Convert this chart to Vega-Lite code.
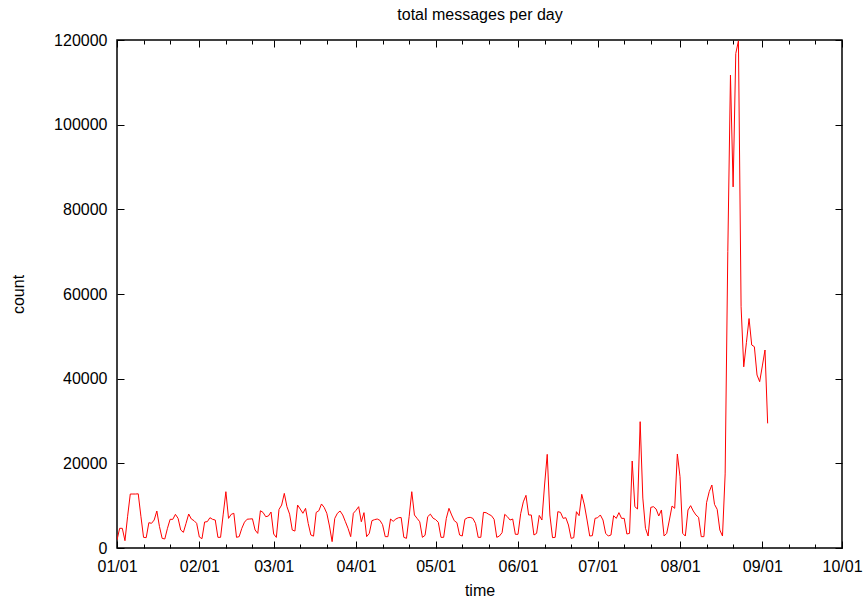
{
  "$schema": "https://vega.github.io/schema/vega-lite/v6.json",
  "width": 725,
  "height": 508,
  "autosize": {"type": "none"},
  "padding": {"left": 117, "top": 40, "right": 21, "bottom": 50},
  "background": "white",
  "data": {"values": [
    {"date": "2014-01-01", "count": 1890}, {"date": "2014-01-02", "count": 4650}, {"date": "2014-01-03", "count": 4650}, {"date": "2014-01-04", "count": 1730}, {"date": "2014-01-05", "count": 7500}, {"date": "2014-01-06", "count": 12750}, {"date": "2014-01-07", "count": 12750}, {"date": "2014-01-08", "count": 12750}, {"date": "2014-01-09", "count": 12800}, {"date": "2014-01-10", "count": 7500}, {"date": "2014-01-11", "count": 2520}, {"date": "2014-01-12", "count": 2440}, {"date": "2014-01-13", "count": 5980}, {"date": "2014-01-14", "count": 5830}, {"date": "2014-01-15", "count": 6610}, {"date": "2014-01-16", "count": 8740}, {"date": "2014-01-17", "count": 5040}, {"date": "2014-01-18", "count": 2280}, {"date": "2014-01-19", "count": 2130}, {"date": "2014-01-20", "count": 4650}, {"date": "2014-01-21", "count": 6770}, {"date": "2014-01-22", "count": 6770}, {"date": "2014-01-23", "count": 7950}, {"date": "2014-01-24", "count": 7000}, {"date": "2014-01-25", "count": 4250}, {"date": "2014-01-26", "count": 3700}, {"date": "2014-01-27", "count": 5830}, {"date": "2014-01-28", "count": 8030}, {"date": "2014-01-29", "count": 6850}, {"date": "2014-01-30", "count": 6460}, {"date": "2014-01-31", "count": 5830},
    {"date": "2014-02-01", "count": 2600}, {"date": "2014-02-02", "count": 2200}, {"date": "2014-02-03", "count": 6140}, {"date": "2014-02-04", "count": 6220}, {"date": "2014-02-05", "count": 7160}, {"date": "2014-02-06", "count": 6770}, {"date": "2014-02-07", "count": 6610}, {"date": "2014-02-08", "count": 2520}, {"date": "2014-02-09", "count": 2520}, {"date": "2014-02-10", "count": 8000}, {"date": "2014-02-11", "count": 13300}, {"date": "2014-02-12", "count": 7000}, {"date": "2014-02-13", "count": 7950}, {"date": "2014-02-14", "count": 8200}, {"date": "2014-02-15", "count": 2520}, {"date": "2014-02-16", "count": 2680}, {"date": "2014-02-17", "count": 4650}, {"date": "2014-02-18", "count": 6100}, {"date": "2014-02-19", "count": 6800}, {"date": "2014-02-20", "count": 6850}, {"date": "2014-02-21", "count": 6900}, {"date": "2014-02-22", "count": 4250}, {"date": "2014-02-23", "count": 3450}, {"date": "2014-02-24", "count": 8800}, {"date": "2014-02-25", "count": 8400}, {"date": "2014-02-26", "count": 7400}, {"date": "2014-02-27", "count": 7550}, {"date": "2014-02-28", "count": 8500},
    {"date": "2014-03-01", "count": 3300}, {"date": "2014-03-02", "count": 2500}, {"date": "2014-03-03", "count": 9100}, {"date": "2014-03-04", "count": 10150}, {"date": "2014-03-05", "count": 12900}, {"date": "2014-03-06", "count": 9750}, {"date": "2014-03-07", "count": 8000}, {"date": "2014-03-08", "count": 4250}, {"date": "2014-03-09", "count": 4000}, {"date": "2014-03-10", "count": 10150}, {"date": "2014-03-11", "count": 9200}, {"date": "2014-03-12", "count": 8200}, {"date": "2014-03-13", "count": 9370}, {"date": "2014-03-14", "count": 5800}, {"date": "2014-03-15", "count": 3070}, {"date": "2014-03-16", "count": 2800}, {"date": "2014-03-17", "count": 8400}, {"date": "2014-03-18", "count": 8800}, {"date": "2014-03-19", "count": 10400}, {"date": "2014-03-20", "count": 9600}, {"date": "2014-03-21", "count": 8200}, {"date": "2014-03-22", "count": 5200}, {"date": "2014-03-23", "count": 1500}, {"date": "2014-03-24", "count": 7000}, {"date": "2014-03-25", "count": 8200}, {"date": "2014-03-26", "count": 8740}, {"date": "2014-03-27", "count": 7800}, {"date": "2014-03-28", "count": 6220}, {"date": "2014-03-29", "count": 4650}, {"date": "2014-03-30", "count": 2680}, {"date": "2014-03-31", "count": 8200},
    {"date": "2014-04-01", "count": 8900}, {"date": "2014-04-02", "count": 9760}, {"date": "2014-04-03", "count": 6200}, {"date": "2014-04-04", "count": 8350}, {"date": "2014-04-05", "count": 2680}, {"date": "2014-04-06", "count": 3460}, {"date": "2014-04-07", "count": 6460}, {"date": "2014-04-08", "count": 6700}, {"date": "2014-04-09", "count": 6850}, {"date": "2014-04-10", "count": 6530}, {"date": "2014-04-11", "count": 5500}, {"date": "2014-04-12", "count": 2680}, {"date": "2014-04-13", "count": 2680}, {"date": "2014-04-14", "count": 6850}, {"date": "2014-04-15", "count": 6300}, {"date": "2014-04-16", "count": 6850}, {"date": "2014-04-17", "count": 7150}, {"date": "2014-04-18", "count": 7200}, {"date": "2014-04-19", "count": 2520}, {"date": "2014-04-20", "count": 2280}, {"date": "2014-04-21", "count": 7400}, {"date": "2014-04-22", "count": 13300}, {"date": "2014-04-23", "count": 7800}, {"date": "2014-04-24", "count": 7000}, {"date": "2014-04-25", "count": 6200}, {"date": "2014-04-26", "count": 2520}, {"date": "2014-04-27", "count": 3000}, {"date": "2014-04-28", "count": 7400}, {"date": "2014-04-29", "count": 8000}, {"date": "2014-04-30", "count": 7050},
    {"date": "2014-05-01", "count": 6700}, {"date": "2014-05-02", "count": 6060}, {"date": "2014-05-03", "count": 2520}, {"date": "2014-05-04", "count": 2520}, {"date": "2014-05-05", "count": 7000}, {"date": "2014-05-06", "count": 9370}, {"date": "2014-05-07", "count": 7800}, {"date": "2014-05-08", "count": 6450}, {"date": "2014-05-09", "count": 5980}, {"date": "2014-05-10", "count": 3070}, {"date": "2014-05-11", "count": 2830}, {"date": "2014-05-12", "count": 6770}, {"date": "2014-05-13", "count": 7160}, {"date": "2014-05-14", "count": 7240}, {"date": "2014-05-15", "count": 7000}, {"date": "2014-05-16", "count": 5800}, {"date": "2014-05-17", "count": 2520}, {"date": "2014-05-18", "count": 2520}, {"date": "2014-05-19", "count": 8420}, {"date": "2014-05-20", "count": 8340}, {"date": "2014-05-21", "count": 7950}, {"date": "2014-05-22", "count": 7640}, {"date": "2014-05-23", "count": 6770}, {"date": "2014-05-24", "count": 2520}, {"date": "2014-05-25", "count": 2830}, {"date": "2014-05-26", "count": 3620}, {"date": "2014-05-27", "count": 7950}, {"date": "2014-05-28", "count": 7400}, {"date": "2014-05-29", "count": 6610}, {"date": "2014-05-30", "count": 6850}, {"date": "2014-05-31", "count": 3230},
    {"date": "2014-06-01", "count": 3230}, {"date": "2014-06-02", "count": 8100}, {"date": "2014-06-03", "count": 10900}, {"date": "2014-06-04", "count": 12440}, {"date": "2014-06-05", "count": 7800}, {"date": "2014-06-06", "count": 7800}, {"date": "2014-06-07", "count": 3070}, {"date": "2014-06-08", "count": 3460}, {"date": "2014-06-09", "count": 7700}, {"date": "2014-06-10", "count": 6610}, {"date": "2014-06-11", "count": 14880}, {"date": "2014-06-12", "count": 22120}, {"date": "2014-06-13", "count": 7800}, {"date": "2014-06-14", "count": 2440}, {"date": "2014-06-15", "count": 2520}, {"date": "2014-06-16", "count": 8580}, {"date": "2014-06-17", "count": 8420}, {"date": "2014-06-18", "count": 7000}, {"date": "2014-06-19", "count": 7160}, {"date": "2014-06-20", "count": 5430}, {"date": "2014-06-21", "count": 2280}, {"date": "2014-06-22", "count": 2440}, {"date": "2014-06-23", "count": 8580}, {"date": "2014-06-24", "count": 7640}, {"date": "2014-06-25", "count": 12680}, {"date": "2014-06-26", "count": 10160}, {"date": "2014-06-27", "count": 6610}, {"date": "2014-06-28", "count": 2830}, {"date": "2014-06-29", "count": 2910}, {"date": "2014-06-30", "count": 7000},
    {"date": "2014-07-01", "count": 7160}, {"date": "2014-07-02", "count": 7800}, {"date": "2014-07-03", "count": 6610}, {"date": "2014-07-04", "count": 3460}, {"date": "2014-07-05", "count": 2830}, {"date": "2014-07-06", "count": 3070}, {"date": "2014-07-07", "count": 7640}, {"date": "2014-07-08", "count": 7000}, {"date": "2014-07-09", "count": 8350}, {"date": "2014-07-10", "count": 7000}, {"date": "2014-07-11", "count": 7000}, {"date": "2014-07-12", "count": 3300}, {"date": "2014-07-13", "count": 3460}, {"date": "2014-07-14", "count": 20550}, {"date": "2014-07-15", "count": 9760}, {"date": "2014-07-16", "count": 9210}, {"date": "2014-07-17", "count": 29840}, {"date": "2014-07-18", "count": 11800}, {"date": "2014-07-19", "count": 4650}, {"date": "2014-07-20", "count": 2830}, {"date": "2014-07-21", "count": 9600}, {"date": "2014-07-22", "count": 9760}, {"date": "2014-07-23", "count": 9210}, {"date": "2014-07-24", "count": 7560}, {"date": "2014-07-25", "count": 8980}, {"date": "2014-07-26", "count": 2830}, {"date": "2014-07-27", "count": 3460}, {"date": "2014-07-28", "count": 6610}, {"date": "2014-07-29", "count": 9920}, {"date": "2014-07-30", "count": 9370}, {"date": "2014-07-31", "count": 22200},
    {"date": "2014-08-01", "count": 16850}, {"date": "2014-08-02", "count": 3460}, {"date": "2014-08-03", "count": 2830}, {"date": "2014-08-04", "count": 8980}, {"date": "2014-08-05", "count": 10000}, {"date": "2014-08-06", "count": 8740}, {"date": "2014-08-07", "count": 7800}, {"date": "2014-08-08", "count": 7240}, {"date": "2014-08-09", "count": 2680}, {"date": "2014-08-10", "count": 2680}, {"date": "2014-08-11", "count": 10700}, {"date": "2014-08-12", "count": 13300}, {"date": "2014-08-13", "count": 14880}, {"date": "2014-08-14", "count": 10300}, {"date": "2014-08-15", "count": 9130}, {"date": "2014-08-16", "count": 4250}, {"date": "2014-08-17", "count": 2830}, {"date": "2014-08-18", "count": 17500}, {"date": "2014-08-19", "count": 70000}, {"date": "2014-08-20", "count": 111700}, {"date": "2014-08-21", "count": 85300}, {"date": "2014-08-22", "count": 116800}, {"date": "2014-08-23", "count": 119800}, {"date": "2014-08-24", "count": 57000}, {"date": "2014-08-25", "count": 42800}, {"date": "2014-08-26", "count": 48500}, {"date": "2014-08-27", "count": 54200}, {"date": "2014-08-28", "count": 47950}, {"date": "2014-08-29", "count": 47550}, {"date": "2014-08-30", "count": 40860}, {"date": "2014-08-31", "count": 39290},
    {"date": "2014-09-01", "count": 43000}, {"date": "2014-09-02", "count": 46770}, {"date": "2014-09-03", "count": 29440}
  ]},
  "layer": [
    {
      "mark": {"type": "line", "color": "#ff0000", "strokeWidth": 1, "clip": true},
      "encoding": {
        "x": {"field": "date", "type": "temporal",
          "scale": {"type": "utc", "domain": [{"year": 2014, "month": 1, "date": 1, "utc": true}, {"year": 2014, "month": 10, "date": 1, "utc": true}], "nice": false},
          "axis": {"orient": "bottom", "title": "time", "titleY": 42, "titleBaseline": "middle", "tickSize": -7, "labelPadding": 17,
            "labelExpr": "utcFormat(datum.value, '%m/%d')",
            "values": [{"year": 2014, "month": 1, "date": 1, "utc": true}, {"year": 2014, "month": 2, "date": 1, "utc": true}, {"year": 2014, "month": 3, "date": 1, "utc": true}, {"year": 2014, "month": 4, "date": 1, "utc": true}, {"year": 2014, "month": 5, "date": 1, "utc": true}, {"year": 2014, "month": 6, "date": 1, "utc": true}, {"year": 2014, "month": 7, "date": 1, "utc": true}, {"year": 2014, "month": 8, "date": 1, "utc": true}, {"year": 2014, "month": 9, "date": 1, "utc": true}, {"year": 2014, "month": 10, "date": 1, "utc": true}]}},
        "y": {"field": "count", "type": "quantitative",
          "scale": {"domain": [0, 120000], "nice": false},
          "axis": {"orient": "left", "title": "count", "titleX": -99, "titleY": 254, "titleAngle": -90, "titleAlign": "center", "titleBaseline": "middle", "tickSize": -7, "labelPadding": 17, "format": "d",
            "values": [0, 20000, 40000, 60000, 80000, 100000, 120000]}}
      }
    },
    {
      "mark": {"type": "line", "opacity": 0},
      "encoding": {
        "x": {"field": "date", "type": "temporal",
          "axis": {"orient": "top", "title": "total messages per day", "titleX": 362.5, "titleY": -21, "titleAlign": "center", "titleBaseline": "alphabetic", "titleAngle": 0, "labels": false, "tickSize": -7,
            "values": [{"year": 2014, "month": 1, "date": 1, "utc": true}, {"year": 2014, "month": 2, "date": 1, "utc": true}, {"year": 2014, "month": 3, "date": 1, "utc": true}, {"year": 2014, "month": 4, "date": 1, "utc": true}, {"year": 2014, "month": 5, "date": 1, "utc": true}, {"year": 2014, "month": 6, "date": 1, "utc": true}, {"year": 2014, "month": 7, "date": 1, "utc": true}, {"year": 2014, "month": 8, "date": 1, "utc": true}, {"year": 2014, "month": 9, "date": 1, "utc": true}, {"year": 2014, "month": 10, "date": 1, "utc": true}]}},
        "y": {"field": "count", "type": "quantitative",
          "axis": {"orient": "right", "title": null, "labels": false, "tickSize": -7, "values": [0, 20000, 40000, 60000, 80000, 100000, 120000]}}
      }
    },
    {
      "mark": {"type": "line", "opacity": 0},
      "encoding": {
        "x": {"field": "date", "type": "temporal",
          "axis": {"orient": "bottom", "title": null, "labels": false, "tickSize": -4,
            "values": [{"year": 2014, "month": 1, "date": 11, "utc": true}, {"year": 2014, "month": 1, "date": 21, "utc": true}, {"year": 2014, "month": 2, "date": 11, "utc": true}, {"year": 2014, "month": 2, "date": 21, "utc": true}, {"year": 2014, "month": 3, "date": 11, "utc": true}, {"year": 2014, "month": 3, "date": 21, "utc": true}, {"year": 2014, "month": 4, "date": 11, "utc": true}, {"year": 2014, "month": 4, "date": 21, "utc": true}, {"year": 2014, "month": 5, "date": 11, "utc": true}, {"year": 2014, "month": 5, "date": 21, "utc": true}, {"year": 2014, "month": 6, "date": 11, "utc": true}, {"year": 2014, "month": 6, "date": 21, "utc": true}, {"year": 2014, "month": 7, "date": 11, "utc": true}, {"year": 2014, "month": 7, "date": 21, "utc": true}, {"year": 2014, "month": 8, "date": 11, "utc": true}, {"year": 2014, "month": 8, "date": 21, "utc": true}, {"year": 2014, "month": 9, "date": 11, "utc": true}, {"year": 2014, "month": 9, "date": 21, "utc": true}]}},
        "y": {"field": "count", "type": "quantitative", "axis": null}
      }
    },
    {
      "mark": {"type": "line", "opacity": 0},
      "encoding": {
        "x": {"field": "date", "type": "temporal",
          "axis": {"orient": "top", "title": null, "labels": false, "tickSize": -4,
            "values": [{"year": 2014, "month": 1, "date": 11, "utc": true}, {"year": 2014, "month": 1, "date": 21, "utc": true}, {"year": 2014, "month": 2, "date": 11, "utc": true}, {"year": 2014, "month": 2, "date": 21, "utc": true}, {"year": 2014, "month": 3, "date": 11, "utc": true}, {"year": 2014, "month": 3, "date": 21, "utc": true}, {"year": 2014, "month": 4, "date": 11, "utc": true}, {"year": 2014, "month": 4, "date": 21, "utc": true}, {"year": 2014, "month": 5, "date": 11, "utc": true}, {"year": 2014, "month": 5, "date": 21, "utc": true}, {"year": 2014, "month": 6, "date": 11, "utc": true}, {"year": 2014, "month": 6, "date": 21, "utc": true}, {"year": 2014, "month": 7, "date": 11, "utc": true}, {"year": 2014, "month": 7, "date": 21, "utc": true}, {"year": 2014, "month": 8, "date": 11, "utc": true}, {"year": 2014, "month": 8, "date": 21, "utc": true}, {"year": 2014, "month": 9, "date": 11, "utc": true}, {"year": 2014, "month": 9, "date": 21, "utc": true}]}},
        "y": {"field": "count", "type": "quantitative", "axis": null}
      }
    }
  ],
  "resolve": {"axis": {"x": "independent", "y": "independent"}},
  "config": {
    "view": {"stroke": "black", "strokeWidth": 1.5},
    "axis": {"domain": false, "grid": false, "tickColor": "black", "tickWidth": 1, "labelColor": "black", "labelFont": "Liberation Sans", "labelFontSize": 16, "titleFont": "Liberation Sans", "titleFontSize": 16, "titleFontWeight": "normal", "titleColor": "black", "labelFlush": false, "labelOverlap": false}
  }
}
